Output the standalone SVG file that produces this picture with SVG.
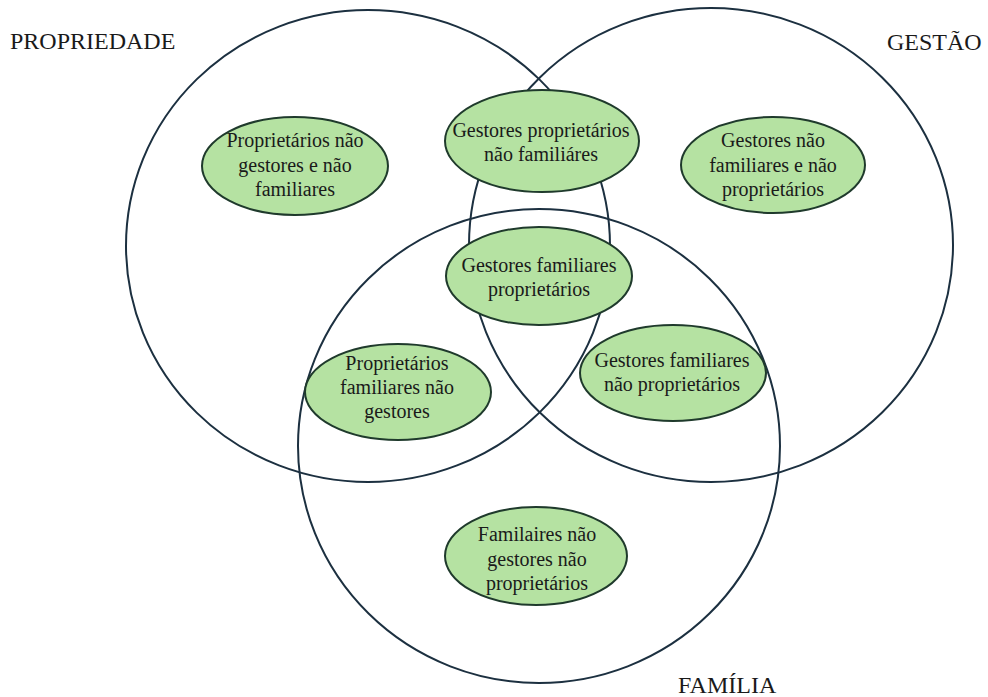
<svg xmlns="http://www.w3.org/2000/svg" width="988" height="697" viewBox="0 0 988 697">
<style>
.set{fill:none;stroke:#1c3040;stroke-width:2}
.node ellipse{fill:#b5e2a2;stroke:#1f3a2c;stroke-width:2}
text{font-family:"Liberation Serif","Times New Roman",serif;fill:#1a1a1a}
.lbl{font-size:20px;text-anchor:middle}
.ttl{font-size:24px}
</style>
<rect width="988" height="697" fill="#ffffff"/>
<g id="sets">
<ellipse id="set-propriedade" class="set" cx="368" cy="246" rx="242" ry="236"/>
<ellipse id="set-gestao" class="set" cx="711" cy="245" rx="242" ry="237"/>
<ellipse id="set-familia" class="set" cx="539" cy="446" rx="241" ry="237"/>
</g>
<g id="titles">
<text class="ttl" x="10" y="49">PROPRIEDADE</text>
<text class="ttl" x="887" y="50">GESTÃO</text>
<text class="ttl" x="678" y="693">FAMÍLIA</text>
</g>
<g id="n1" class="node">
<ellipse cx="295" cy="166" rx="93" ry="49"/>
<text class="lbl" x="295" y="147">Proprietários não</text>
<text class="lbl" x="295" y="172">gestores e não</text>
<text class="lbl" x="295" y="196">familiares</text>
</g>
<g id="n2" class="node">
<ellipse cx="542" cy="141" rx="97" ry="51"/>
<text class="lbl" x="541" y="137">Gestores proprietários</text>
<text class="lbl" x="541" y="161">não familiáres</text>
</g>
<g id="n3" class="node">
<ellipse cx="539" cy="276" rx="93" ry="49"/>
<text class="lbl" x="539" y="272">Gestores familiares</text>
<text class="lbl" x="539" y="296">proprietários</text>
</g>
<g id="n4" class="node">
<ellipse cx="773" cy="165" rx="92" ry="48"/>
<text class="lbl" x="773" y="147">Gestores não</text>
<text class="lbl" x="773" y="172">familiares e não</text>
<text class="lbl" x="773" y="196">proprietários</text>
</g>
<g id="n5" class="node">
<ellipse cx="398" cy="392" rx="93" ry="48"/>
<text class="lbl" x="397" y="370">Proprietários</text>
<text class="lbl" x="397" y="394">familiares não</text>
<text class="lbl" x="397" y="418">gestores</text>
</g>
<g id="n6" class="node">
<ellipse cx="673" cy="373" rx="93" ry="48"/>
<text class="lbl" x="672" y="367">Gestores familiares</text>
<text class="lbl" x="672" y="391">não proprietários</text>
</g>
<g id="n7" class="node">
<ellipse cx="536" cy="556" rx="91" ry="49"/>
<text class="lbl" x="537" y="541">Familaires não</text>
<text class="lbl" x="537" y="566">gestores não</text>
<text class="lbl" x="537" y="590">proprietários</text>
</g>
<g id="connectors"></g>
</svg>
